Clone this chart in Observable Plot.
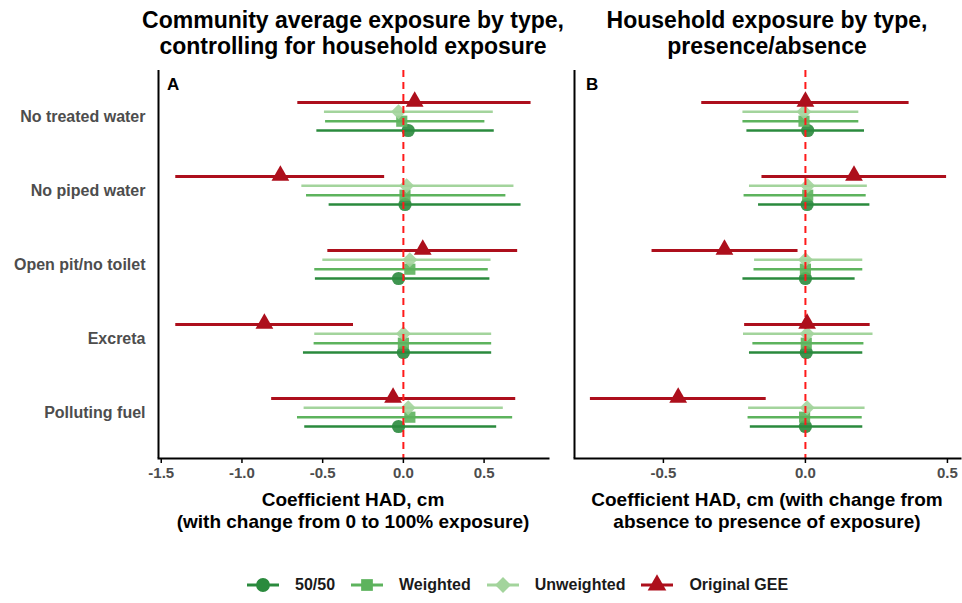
<!DOCTYPE html>
<html>
<head>
<meta charset="utf-8">
<script src="https://cdn.jsdelivr.net/npm/d3@7"></script>
<script src="https://cdn.jsdelivr.net/npm/@observablehq/plot@0.6"></script>
<style>
  html, body { margin: 0; padding: 0; background: #fff; }
  body { width: 962px; height: 603px; overflow: hidden; font-family: "Liberation Sans", Arial, sans-serif; }
  #wrap { position: relative; width: 962px; height: 603px; }
  .abs { position: absolute; }
  .title { font-weight: bold; font-size: 23px; line-height: 26px; text-align: center; color: #000; white-space: nowrap; }
  .xtitle { font-weight: bold; font-size: 19px; line-height: 22px; text-align: center; color: #000; white-space: nowrap; }
  .tag { font-weight: bold; font-size: 17px; color: #000; }
  #legend { position: absolute; left: 246px; top: 574px; display: flex; align-items: center; font-weight: bold; font-size: 16px; color: #1a1a1a; white-space: nowrap; }
  #legend .item { display: flex; align-items: center; margin-right: 15px; }
  #legend svg { margin-right: 15px; }
</style>
</head>
<body>
<div id="wrap">
  <div class="abs title" style="left:103px; top:7px; width:500px;">Community average exposure by type,<br>controlling for household exposure</div>
  <div class="abs title" style="left:517px; top:7px; width:500px;">Household exposure by type,<br>presence/absence</div>
  <div id="panelA" class="abs" style="left:0; top:60px;"></div>
  <div id="panelB" class="abs" style="left:565px; top:60px;"></div>
  <div class="abs tag" style="left:167px; top:75px;">A</div>
  <div class="abs tag" style="left:586px; top:75px;">B</div>
  <div class="abs xtitle" style="left:103px; top:489px; width:500px;">Coefficient HAD, cm<br>(with change from 0 to 100% exposure)</div>
  <div class="abs xtitle" style="left:517px; top:489px; width:500px;">Coefficient HAD, cm (with change from<br>absence to presence of exposure)</div>
  <div id="legend"></div>
</div>
<script>
// ---- data ----
const categories = ["No treated water", "No piped water", "Open pit/no toilet", "Excreta", "Polluting fuel"];
const seriesNames = ["Original GEE", "Unweighted", "Weighted", "50/50"];
const seriesColors = ["#ad0f1c", "#a3d49c", "#5db35d", "#2a8a3d"];
const seriesSymbols = ["triangle", "diamond", "square", "circle"];

// Panel A: community average exposure, [low, estimate, high] per category
const A_gee = [[-0.654, 0.07, 0.791], [-1.41, -0.762, -0.116], [-0.468, 0.12, 0.708], [-1.41, -0.861, -0.309], [-0.816, -0.064, 0.696]];
const A_unw = [[-0.489, -0.03, 0.557], [-0.629, 0.02, 0.685], [-0.499, 0.04, 0.543], [-0.549, 0.0, 0.547], [-0.615, 0.03, 0.619]];
const A_wtd = [[-0.482, -0.01, 0.505], [-0.60, 0.01, 0.635], [-0.549, 0.04, 0.526], [-0.553, 0.0, 0.547], [-0.656, 0.04, 0.677]];
const A_ff  = [[-0.536, 0.03, 0.563], [-0.46, 0.01, 0.729], [-0.545, -0.03, 0.536], [-0.619, 0.0, 0.547], [-0.611, -0.03, 0.578]];

// Panel B: household exposure, [low, estimate, high] per category
const B_gee = [[-0.365, 0.0, 0.365], [-0.153, 0.171, 0.497], [-0.54, -0.285, -0.026], [-0.214, 0.006, 0.228], [-0.757, -0.448, -0.138]];
const B_unw = [[-0.22, -0.005, 0.188], [-0.197, 0.008, 0.218], [-0.179, 0.0, 0.202], [-0.218, 0.006, 0.238], [-0.2, 0.006, 0.21]];
const B_wtd = [[-0.22, -0.005, 0.188], [-0.216, 0.008, 0.214], [-0.181, 0.0, 0.202], [-0.185, 0.003, 0.206], [-0.202, -0.003, 0.2]];
const B_ff  = [[-0.206, 0.008, 0.208], [-0.165, 0.006, 0.227], [-0.22, 0.0, 0.175], [-0.197, 0.003, 0.202], [-0.194, 0.0, 0.202]];

const ticksA = [-1.5, -1.0, -0.5, 0.0, 0.5];
const ticksB = [-0.5, 0.0, 0.5];

// rotated-square diamond symbol
const diamondSq = {
  draw(context, size) {
    const h = Math.sqrt(size / 2);
    context.moveTo(0, -h); context.lineTo(h, 0); context.lineTo(0, h); context.lineTo(-h, 0); context.closePath();
  }
};
const symbolTypes = {triangle: d3.symbolTriangle, diamond: diamondSq, square: d3.symbolSquare, circle: d3.symbolCircle};

function toRows(arrs) {
  const rows = [];
  arrs.forEach((arr, si) => arr.forEach((v, ci) => rows.push({
    series: seriesNames[si], cat: categories[ci], lo: v[0], est: v[1], hi: v[2]
  })));
  return rows;
}

const offsets = {"Original GEE": -14, "Unweighted": -4.7, "Weighted": 4.7, "50/50": 14};
const rSym = {"triangle": 6.6, "diamond": 6.0, "square": 6.3, "circle": 6.6};

function panel(arrs, opts) {
  const rows = toRows(arrs);
  const marks = [];
  [3, 2, 1, 0].forEach(si => {
    const name = seriesNames[si];
    const d = rows.filter(r => r.series === name);
    marks.push(Plot.ruleY(d, {y: "cat", x1: "lo", x2: "hi", dy: offsets[name], stroke: seriesColors[si], strokeWidth: si === 0 ? 3 : 2.6}));
  });
  [3, 2, 1].forEach(si => {
    const name = seriesNames[si];
    const d = rows.filter(r => r.series === name);
    marks.push(Plot.dot(d, {y: "cat", x: "est", dy: offsets[name], symbol: () => symbolTypes[seriesSymbols[si]], fill: seriesColors[si], r: rSym[seriesSymbols[si]], stroke: "none", fillOpacity: 0.9}));
  });
  marks.push(Plot.ruleX([0], {stroke: "#ff1a1a", strokeWidth: 2, strokeDasharray: "7,5"}));
  {
    const d = rows.filter(r => r.series === "Original GEE");
    marks.push(Plot.dot(d, {y: "cat", x: "est", dy: offsets["Original GEE"] - 1, symbol: () => d3.symbolTriangle, fill: seriesColors[0], r: rSym.triangle, stroke: "none"}));
  }
  marks.push(Plot.axisX({ticks: opts.ticks, tickFormat: d => d.toFixed(1), tickSize: 5, tickPadding: 4, fontSize: 15, fontWeight: "bold", fill: "#4d4d4d", stroke: "#000", strokeWidth: 1.5, label: null}));
  marks.push(Plot.axisY({tickSize: 0, tickPadding: opts.yLabels ? 13 : 0, fontSize: 16, fontWeight: "bold", fill: "#4d4d4d", label: null, tickFormat: opts.yLabels ? (d => d) : () => ""}));
  marks.push(Plot.ruleX([opts.domain[0]], {stroke: "#000", strokeWidth: 2}));
  marks.push(Plot.frame({anchor: "bottom", stroke: "#000", strokeWidth: 2}));
  return Plot.plot({
    width: opts.width,
    height: 430,
    marginTop: 10,
    marginBottom: 32,
    marginLeft: opts.marginLeft,
    marginRight: opts.marginRight,
    style: {fontFamily: "'Liberation Sans', Arial, sans-serif", background: "transparent", overflow: "visible"},
    x: {domain: opts.domain},
    y: {type: "point", domain: categories, padding: 0.6216},
    symbol: {type: "identity"},
    marks
  });
}

document.getElementById("panelA").appendChild(panel([A_gee, A_unw, A_wtd, A_ff], {width: 560, marginLeft: 158, marginRight: 12, domain: [-1.517, 0.899], ticks: ticksA, yLabels: true}));
document.getElementById("panelB").appendChild(panel([B_gee, B_unw, B_wtd, B_ff], {width: 397, marginLeft: 9, marginRight: 2, domain: [-0.813, 0.546], ticks: ticksB, yLabels: false}));

// legend
const legendOrder = [3, 2, 1, 0];
const legend = document.getElementById("legend");
legendOrder.forEach(si => {
  const item = document.createElement("div");
  item.className = "item";
  const s = d3.create("svg").attr("width", 34).attr("height", 22);
  s.append("line").attr("x1", 1).attr("x2", 33).attr("y1", 11).attr("y2", 11).attr("stroke", seriesColors[si]).attr("stroke-width", 3);
  const r = rSym[seriesSymbols[si]] * 1.05;
  s.append("path").attr("d", d3.symbol(symbolTypes[seriesSymbols[si]], Math.PI * r * r)()).attr("transform", "translate(17,11)").attr("fill", seriesColors[si]);
  item.appendChild(s.node());
  const t = document.createElement("span");
  t.textContent = seriesNames[si];
  item.appendChild(t);
  legend.appendChild(item);
});
</script>
</body>
</html>
